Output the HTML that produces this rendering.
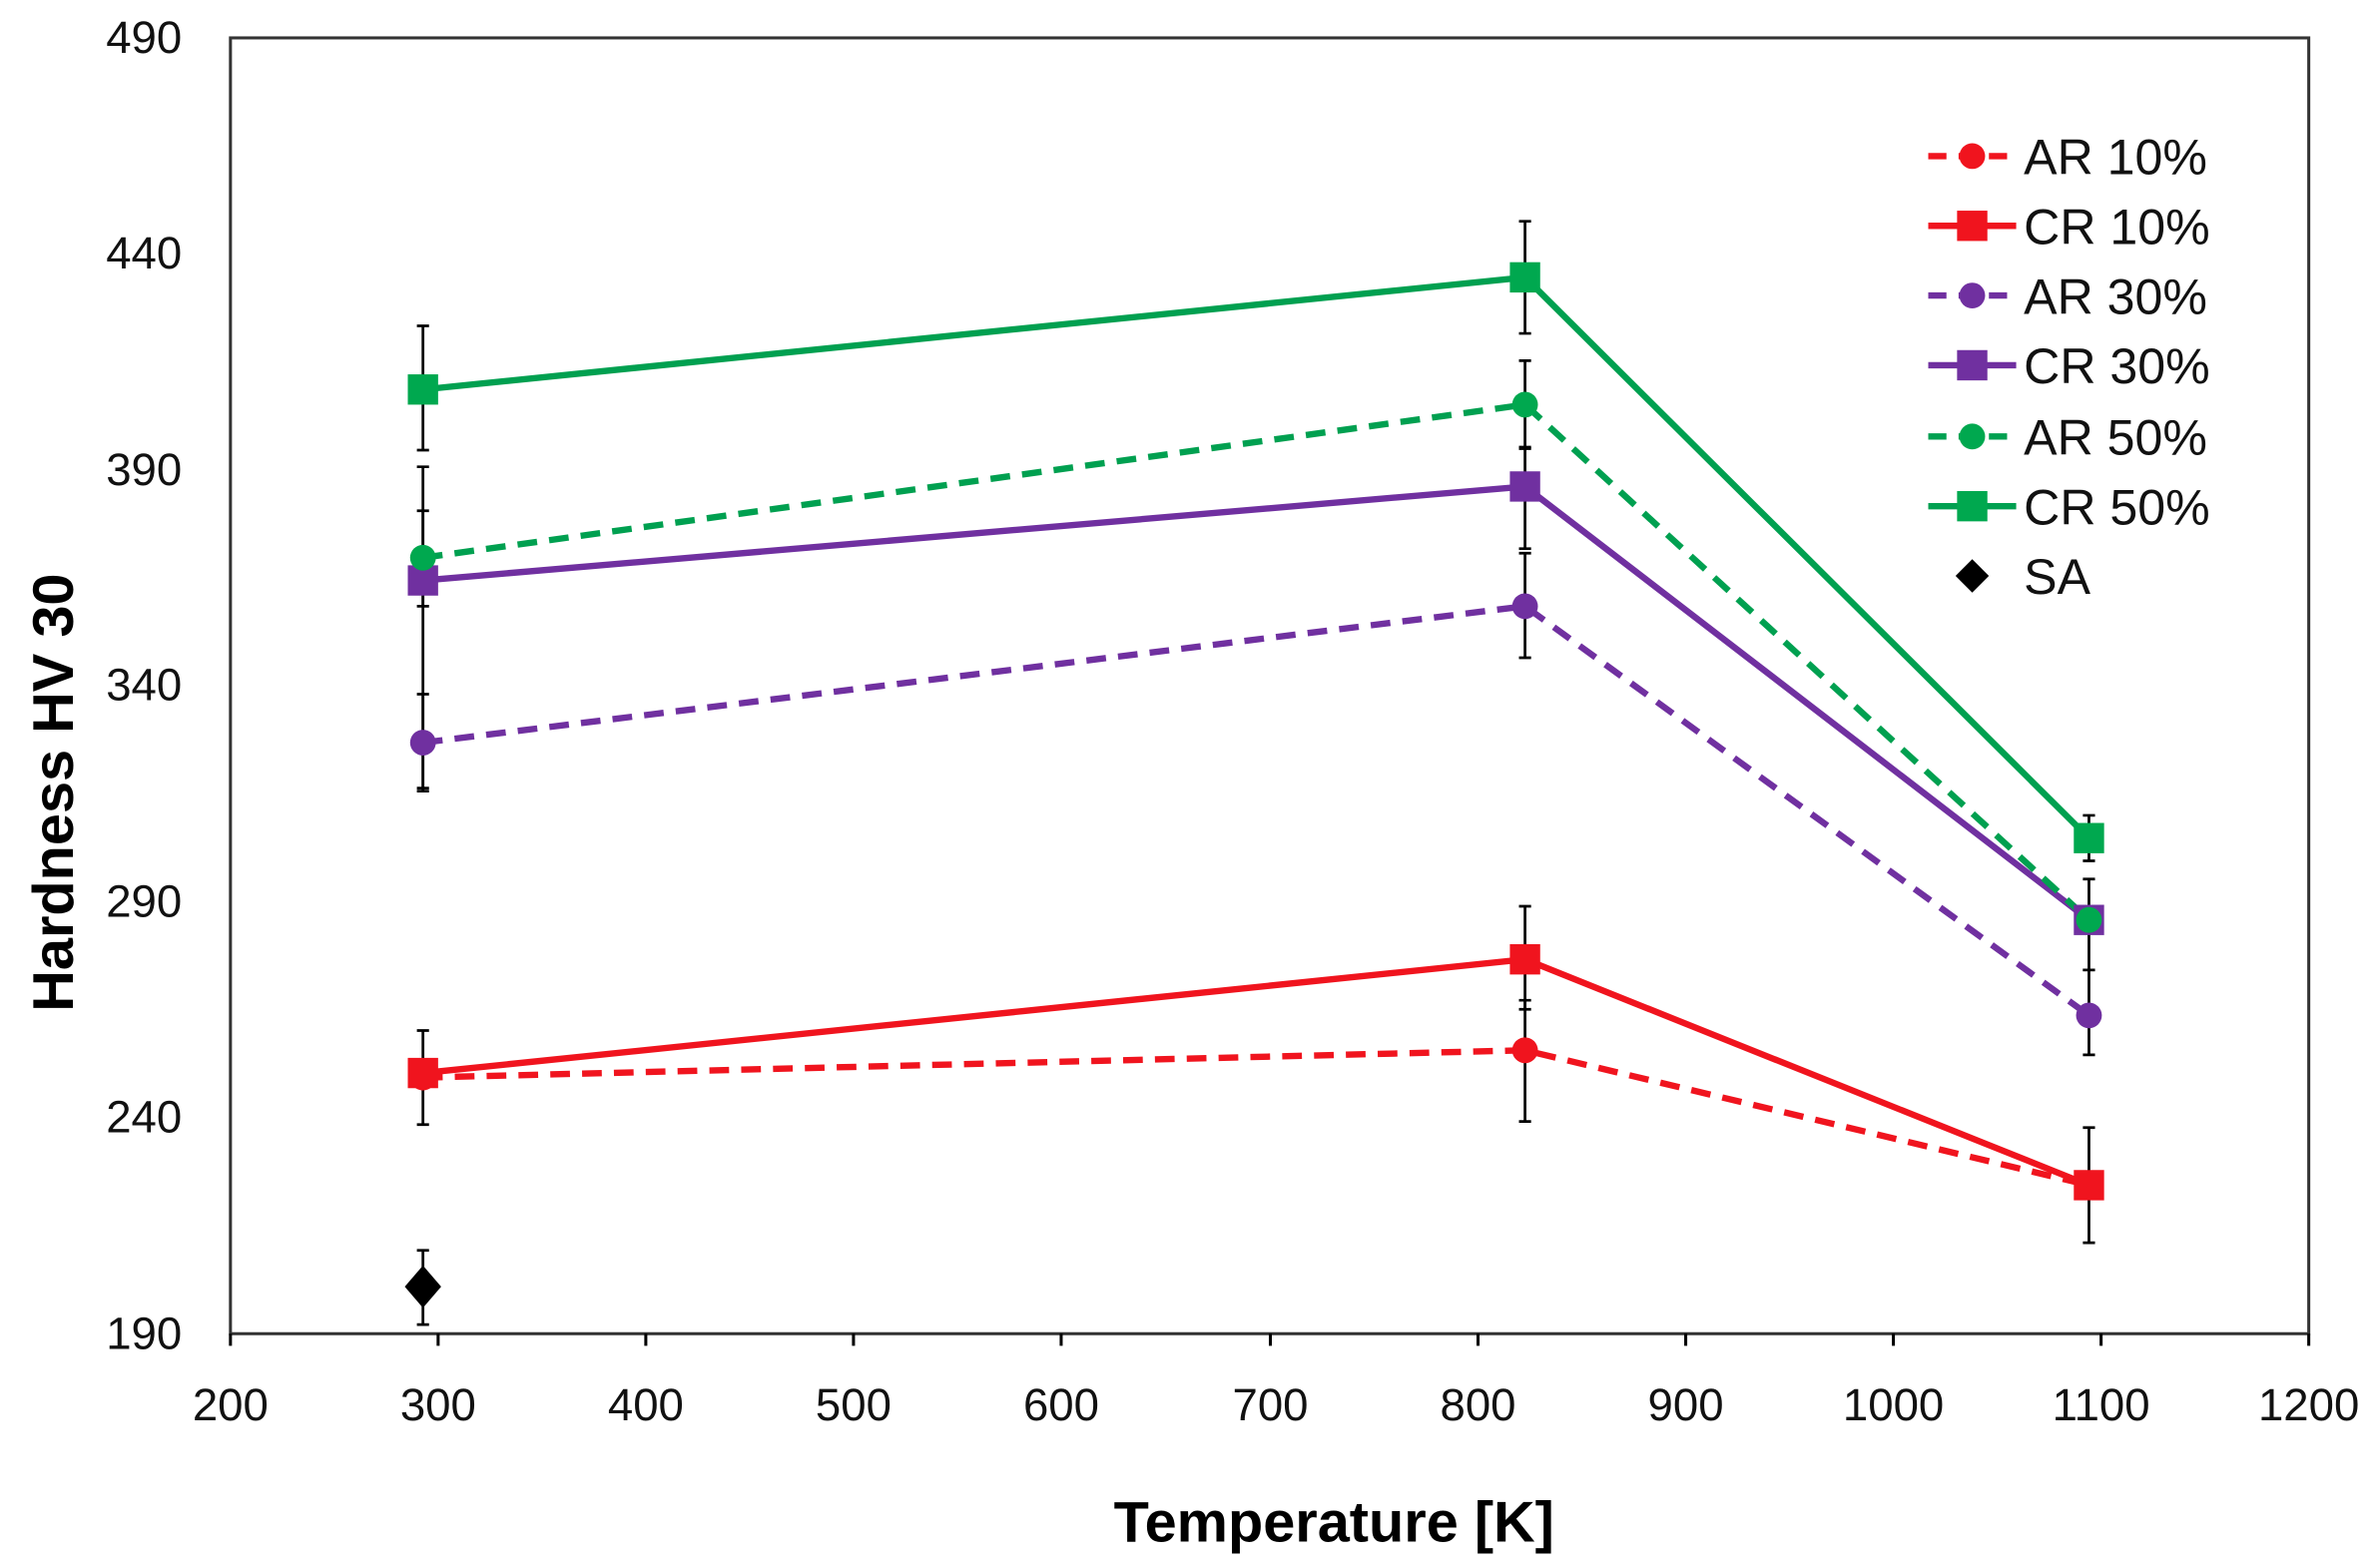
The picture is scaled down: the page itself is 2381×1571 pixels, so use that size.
<!DOCTYPE html>
<html><head><meta charset="utf-8"><style>html,body{margin:0;padding:0;background:#fff}svg{display:block}</style></head>
<body>
<svg width="2381" height="1571" viewBox="0 0 1568 1034.6" xmlns="http://www.w3.org/2000/svg" font-family="Liberation Sans, sans-serif">
<rect width="1568" height="1035" fill="#fff"/>
<rect x="152" y="25" width="1371" height="855" fill="none" stroke="#333" stroke-width="2"/>
<g stroke="#000" stroke-width="2">
<line x1="152" y1="880" x2="152" y2="888"/><line x1="289" y1="880" x2="289" y2="888"/><line x1="426" y1="880" x2="426" y2="888"/><line x1="563" y1="880" x2="563" y2="888"/><line x1="700" y1="880" x2="700" y2="888"/><line x1="838" y1="880" x2="838" y2="888"/><line x1="975" y1="880" x2="975" y2="888"/><line x1="1112" y1="880" x2="1112" y2="888"/><line x1="1249" y1="880" x2="1249" y2="888"/><line x1="1386" y1="880" x2="1386" y2="888"/><line x1="1523" y1="880" x2="1523" y2="888"/>
</g>
<g font-size="30" text-anchor="middle" fill="#111">
<text x="152" y="937">200</text><text x="289" y="937">300</text><text x="426" y="937">400</text><text x="563" y="937">500</text><text x="700" y="937">600</text><text x="838" y="937">700</text><text x="975" y="937">800</text><text x="1112" y="937">900</text><text x="1249" y="937">1000</text><text x="1386" y="937">1100</text><text x="1523" y="937">1200</text>
</g>
<g font-size="30" text-anchor="end" fill="#111">
<text x="120" y="890">190</text><text x="120" y="747">240</text><text x="120" y="605">290</text><text x="120" y="462">340</text><text x="120" y="320">390</text><text x="120" y="177">440</text><text x="120" y="35">490</text>
</g>
<text x="880" y="1017" font-size="38" font-weight="bold" text-anchor="middle">Temperature  [K]</text>
<text transform="translate(48,523) rotate(-90)" font-size="38" font-weight="bold" text-anchor="middle">Hardness  HV 30</text>
<g stroke="#000" stroke-width="1.8" fill="none">
<path d="M279 215V297M275 215H283M275 297H283"/>
<path d="M279 308V400M275 308H283M275 400H283"/>
<path d="M279 337V522M275 337H283M275 522H283"/>
<path d="M279 458V520M275 458H283M275 520H283"/>
<path d="M279 680V742M275 680H283M275 742H283"/>
<path d="M279 825V874M275 825H283M275 874H283"/>
<path d="M1006 146V220M1002 146H1010M1002 220H1010"/>
<path d="M1006 238V296M1002 238H1010M1002 296H1010"/>
<path d="M1006 295V362M1002 295H1010M1002 362H1010"/>
<path d="M1006 365V434M1002 365H1010M1002 434H1010"/>
<path d="M1006 598V666M1002 598H1010M1002 666H1010"/>
<path d="M1006 660V740M1002 660H1010M1002 740H1010"/>
<path d="M1378 538V568M1374 538H1382M1374 568H1382"/>
<path d="M1378 580V640M1374 580H1382M1374 640H1382"/>
<path d="M1378 640V696M1374 640H1382M1374 696H1382"/>
<path d="M1378 744V820M1374 744H1382M1374 820H1382"/>
</g>
<g fill="none" stroke-width="4.2">
<polyline points="279,711 1006,693 1378,782" stroke="#f0141e" stroke-dasharray="13,8"/>
<polyline points="279,708 1006,633 1378,782" stroke="#f0141e"/>
<polyline points="279,490 1006,400 1378,670" stroke="#7030a0" stroke-dasharray="13,8"/>
<polyline points="279,383 1006,321 1378,607" stroke="#7030a0"/>
<polyline points="279,368 1006,267 1378,607" stroke="#00a050" stroke-dasharray="13,8"/>
<polyline points="279,257 1006,183 1378,553" stroke="#00a050"/>
</g>
<g fill="#f0141e"><circle cx="279" cy="711" r="8.5"/><circle cx="1006" cy="693" r="8.5"/><circle cx="1378" cy="782" r="8.5"/>
<rect x="269" y="698" width="20" height="20"/><rect x="996" y="623" width="20" height="20"/><rect x="1368" y="772" width="20" height="20"/></g>
<g fill="#7030a0"><circle cx="279" cy="490" r="8.5"/><circle cx="1006" cy="400" r="8.5"/><circle cx="1378" cy="670" r="8.5"/>
<rect x="269" y="373" width="20" height="20"/><rect x="996" y="311" width="20" height="20"/><rect x="1368" y="597" width="20" height="20"/></g>
<g fill="#00a84f"><circle cx="279" cy="368" r="8.5"/><circle cx="1006" cy="267" r="8.5"/><circle cx="1378" cy="607" r="8.5"/>
<rect x="269" y="247" width="20" height="20"/><rect x="996" y="173" width="20" height="20"/><rect x="1368" y="543" width="20" height="20"/></g>
<polygon points="279,835 291,849 279,863 267,849" fill="#000"/>
<g stroke-width="4.2" fill="none">
<line x1="1272" y1="103" x2="1328" y2="103" stroke="#f0141e" stroke-dasharray="12,8"/>
<line x1="1272" y1="149" x2="1330" y2="149" stroke="#f0141e"/>
<line x1="1272" y1="195" x2="1328" y2="195" stroke="#7030a0" stroke-dasharray="12,8"/>
<line x1="1272" y1="241" x2="1330" y2="241" stroke="#7030a0"/>
<line x1="1272" y1="288" x2="1328" y2="288" stroke="#00a050" stroke-dasharray="12,8"/>
<line x1="1272" y1="334" x2="1330" y2="334" stroke="#00a050"/>
</g>
<circle cx="1301" cy="103" r="8.5" fill="#f0141e"/><rect x="1291" y="139" width="20" height="20" fill="#f0141e"/>
<circle cx="1301" cy="195" r="8.5" fill="#7030a0"/><rect x="1291" y="231" width="20" height="20" fill="#7030a0"/>
<circle cx="1301" cy="288" r="8.5" fill="#00a84f"/><rect x="1291" y="324" width="20" height="20" fill="#00a84f"/>
<polygon points="1301,369 1312,380 1301,391 1290,380" fill="#000"/>
<g font-size="33" fill="#111">
<text x="1335" y="115">AR 10%</text><text x="1335" y="161">CR 10%</text><text x="1335" y="207">AR 30%</text><text x="1335" y="253">CR 30%</text><text x="1335" y="300">AR 50%</text><text x="1335" y="346">CR 50%</text><text x="1335" y="392">SA</text>
</g>
</svg>
</body></html>
